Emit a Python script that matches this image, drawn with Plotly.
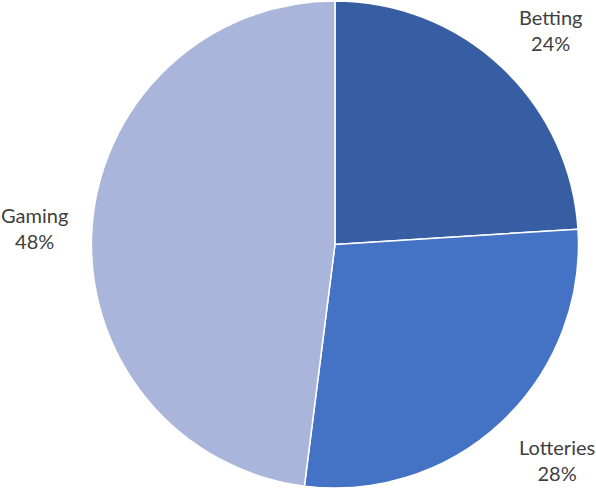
import math
import plotly.graph_objects as go

# Revenue share by segment
labels = ["Betting", "Lotteries", "Gaming"]
values = [24, 28, 48]
colors = ["#375EA3", "#4472C4", "#A9B5DA"]

W, H = 596, 490
dom_x = [0.151, 0.973]
dom_y = [0.004, 0.998]

fig = go.Figure(go.Pie(
    labels=labels,
    values=values,
    sort=False,
    direction="clockwise",
    rotation=0,
    marker=dict(colors=colors, line=dict(color="white", width=1.5)),
    textinfo="none",
    hoverinfo="label+percent",
    showlegend=False,
    domain=dict(x=dom_x, y=dom_y),
))

# Category labels outside each slice: the label box corner nearest the pie
# sits on the slice bisector, a short gap beyond the rim
cx = (dom_x[0] + dom_x[1]) / 2
cy = (dom_y[0] + dom_y[1]) / 2
r_px = min((dom_x[1] - dom_x[0]) * W, (dom_y[1] - dom_y[0]) * H) / 2
label_r = r_px + 22
total = sum(values)
cum = 0
annotations = []
for name, v in zip(labels, values):
    mid = (cum + v / 2) / total * 2 * math.pi
    cum += v
    s, c = math.sin(mid), math.cos(mid)
    xanchor = "center" if abs(s) < 0.3 else ("left" if s > 0 else "right")
    if abs(c) < 0.3:
        yanchor, yshift = "middle", 0
    elif c > 0:
        yanchor, yshift = "bottom", -6
    else:
        yanchor, yshift = "top", 5
    annotations.append(dict(
        x=cx + label_r * s / W, y=cy + label_r * c / H,
        xref="paper", yref="paper",
        text=f"{name}<br>{round(v / total * 100)}%",
        showarrow=False, align="center",
        xanchor=xanchor, yanchor=yanchor, yshift=yshift,
        font=dict(family="Lato", size=20, color="#404040"),
    ))

fig.update_layout(
    width=W, height=H,
    margin=dict(l=0, r=0, t=0, b=0),
    paper_bgcolor="white",
    annotations=annotations,
)

fig.write_html("out.html")
